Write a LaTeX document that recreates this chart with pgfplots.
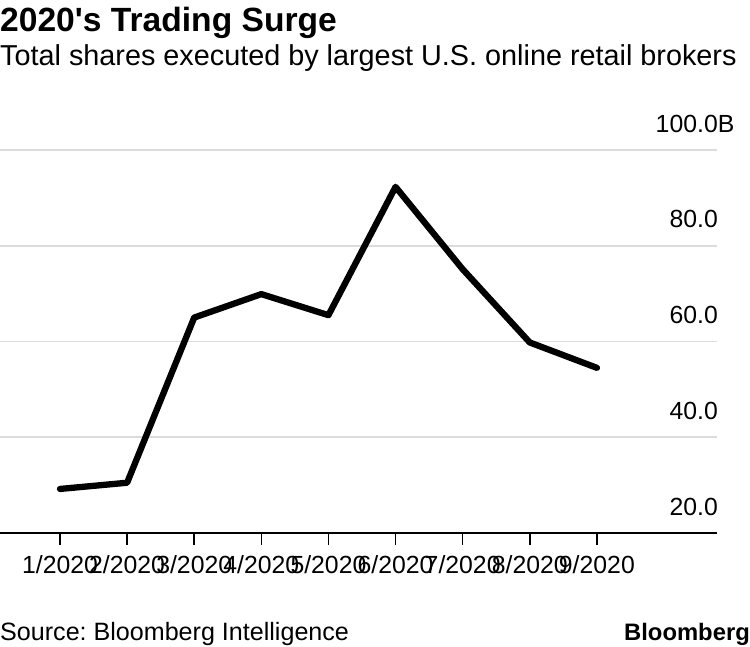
\documentclass[border=0pt]{standalone}
\usepackage{fontspec}
\setmainfont{Liberation Sans}
\newfontfamily\plainfont{Liberation Sans}
\usepackage{pgfplots}
\pgfplotsset{compat=1.18}
\definecolor{gridgray}{HTML}{DCDCDC}
\begin{document}
\frenchspacing
\begin{tikzpicture}[x=1pt,y=1pt]
\path[use as bounding box] (0,-113) rectangle (750,533);
\begin{axis}[
  at={(0pt,0pt)}, anchor=south west,
  scale only axis, width=717pt, height=383pt,
  xmin=0.106, xmax=10.79, ymin=20, ymax=100,
  axis x line*=bottom, axis y line*=right,
  y axis line style={draw=none},
  x axis line style={black, line width=1.6pt},
  xtick={1,2,3,4,5,6,7,8,9},
  xticklabels={1/2020,2/2020,3/2020,4/2020,5/2020,6/2020,7/2020,8/2020,9/2020},
  ytick={20,40,60,80,100},
  yticklabels={20.0,40.0,60.0,80.0,100.0\rlap{B}},
  ymajorgrids, xmajorgrids=false,
  grid style={line width=1.6pt, color=gridgray},
  tick align=outside, major tick length=12pt,
  xtick style={black, line width=1.6pt},
  ytick style={draw=none},
  ticklabel style={font=\fontsize{24.8}{28}\selectfont, inner sep=0pt},
  yticklabel style={anchor=base east, yshift=18pt, xshift=-11pt},
  xticklabel style={anchor=north, yshift=-10pt},
  clip=false,
]
\addplot[black, line width=6.3pt, line join=round, line cap=round] coordinates {
 (1,29.2) (2,30.5) (3,65.0) (4,69.9) (5,65.5) (6,92.3) (7,75.1) (8,59.8) (9,54.5)
};
\end{axis}
\node[anchor=base west, inner sep=0pt, font=\plainfont\fontsize{33.6}{36}\selectfont\bfseries] at (0,501) {2020's Trading Surge};
\node[anchor=base west, inner sep=0pt, font=\fontsize{28.8}{32}\selectfont] at (0,467) {Total shares executed by largest U.S. online retail brokers};
\node[anchor=base west, inner sep=0pt, font=\fontsize{25.1}{28}\selectfont] at (0,-107) {Source: Bloomberg Intelligence};
\node[anchor=base east, inner sep=0pt, font=\fontsize{23.8}{28}\selectfont\bfseries] at (750,-107) {Bloomberg};
\end{tikzpicture}
\end{document}
